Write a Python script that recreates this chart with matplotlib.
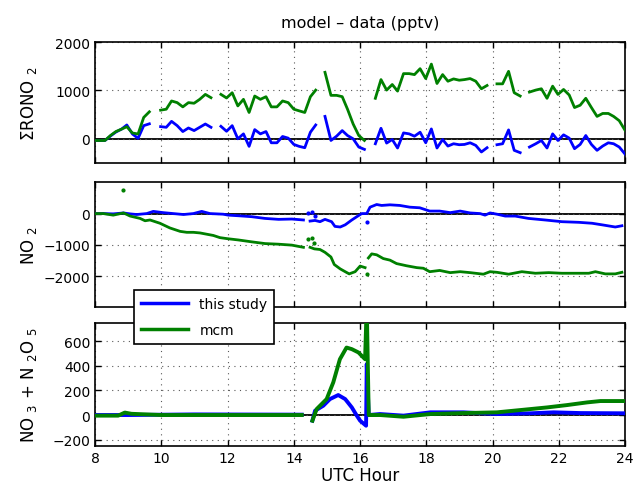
import numpy as np
import matplotlib
matplotlib.use('Agg')
import matplotlib.pyplot as plt

plt.rcParams.update({
    'font.family': 'DejaVu Sans',
    'font.size': 10,
    'axes.linewidth': 1.2,
    'xtick.direction': 'in',
    'ytick.direction': 'in',
    'xtick.top': True,
    'ytick.right': True,
    'xtick.major.size': 4,
    'ytick.major.size': 4,
    'mathtext.default': 'regular',
})

BLUE = (0, 0, 1)
GREEN = (0, 0.5, 0)

# --- top panel: sum RONO2 model - data, segments separated by gaps
rono_t = [
    [8.0, 8.3, 8.47, 8.63, 8.8, 8.96, 9.13, 9.3, 9.47, 9.64],
    [9.98, 10.15, 10.31, 10.48, 10.65, 10.82, 10.99, 11.16, 11.33, 11.5],
    [11.8, 11.97, 12.14, 12.31, 12.48, 12.65, 12.82, 12.99, 13.16, 13.32, 13.49, 13.66,
     13.83, 14.0, 14.16, 14.33, 14.5, 14.66],
    [14.94, 15.12, 15.29, 15.46, 15.62, 15.79, 15.96, 16.13],
    [16.46, 16.63, 16.8, 16.97, 17.13, 17.31, 17.48, 17.64, 17.81, 17.98, 18.15, 18.32,
     18.49, 18.65, 18.82, 18.99, 19.15, 19.32, 19.49, 19.66, 19.83],
    [20.13, 20.3, 20.48, 20.65, 20.83],
    [21.11, 21.3, 21.47, 21.64, 21.81, 21.97, 22.14, 22.31, 22.47, 22.64, 22.81, 22.98,
     23.15, 23.32, 23.49, 23.65, 23.82, 24.0],
]
rono_study = [
    [-35, -35, 60, 140, 200, 286, 100, 10, 272, 310],
    [252, 238, 361, 272, 150, 224, 170, 238, 306, 238],
    [258, 156, 272, 0, 102, -156, 190, 102, 150, -82, -82, 48, 14, -116, -156, -184, 136, 286],
    [463, -34, 54, 170, 68, 0, -170, -218],
    [-102, 218, -88, -14, -190, 122, 102, 54, 136, -82, 204, -190, -14, -150, -102, -122,
     -116, -82, -136, -272, -184],
    [-122, -102, 184, -238, -286],
    [-170, -102, -34, -190, 102, -34, 82, 14, -204, -116, 68, -116, -238, -150, -82, -102,
     -170, -320],
]
rono_mcm = [
    [-35, -35, 70, 150, 200, 250, 120, 100, 442, 558],
    [592, 612, 782, 748, 660, 748, 735, 816, 918, 850],
    [918, 844, 952, 680, 816, 544, 884, 816, 870, 660, 660, 782, 748, 612, 578, 544, 870, 1006],
    [1374, 898, 898, 871, 612, 306, 68, -34],
    [837, 1224, 1007, 1122, 986, 1347, 1347, 1327, 1449, 1245, 1544, 1143, 1327, 1190, 1238,
     1211, 1224, 1245, 1190, 1034, 1102],
    [1136, 1136, 1395, 952, 884],
    [966, 1007, 1034, 837, 1088, 918, 1020, 905, 646, 694, 837, 646, 463, 524, 524, 463, 374, 170],
]

# --- middle panel: NO2 model - data
no2_study_t = [
    [8.0, 8.25, 8.55, 8.86, 9.06, 9.26, 9.56, 9.76, 10.06, 10.36, 10.67, 10.97, 11.22, 11.47,
     11.87, 12.02, 12.33, 12.73, 13.13, 13.54, 13.94, 14.29],
    [14.49, 14.64, 14.79, 14.94, 15.14, 15.24, 15.4, 15.55, 15.75, 15.9, 16.05, 16.2, 16.3,
     16.5, 16.65, 16.9, 17.2, 17.5, 17.8, 18.1, 18.4, 18.72, 19.02, 19.32, 19.62, 19.77,
     19.92, 20.13, 20.38, 20.68, 21.08, 21.58, 22.09, 22.6, 23.0, 23.3, 23.7, 23.9],
]
no2_study = [
    [0, 0, -10, 20, -10, -30, 0, 70, 30, 0, -30, 0, 70, 0, -20, -50, -70, -100, -155, -185,
     -175, -205],
    [-240, -220, -260, -185, -260, -410, -430, -360, -205, -100, 0, 0, 205, 290, 260, 280,
     260, 205, 185, 80, 80, 30, 80, 20, 0, -50, 20, -20, -80, -80, -155, -205, -260, -280,
     -310, -360, -430, -390],
]
no2_mcm_t = [
    [8.0, 8.25, 8.55, 8.86, 9.06, 9.36, 9.51, 9.66, 9.96, 10.26, 10.57, 10.77, 10.97, 11.17,
     11.57, 11.77, 11.97, 12.33, 12.73, 13.13, 13.54, 13.94, 14.29],
    [14.49, 14.62, 14.79, 14.94, 15.12, 15.22, 15.4, 15.55, 15.67, 15.85, 16.0, 16.15],
    [16.25, 16.35, 16.5, 16.7, 16.9, 17.1, 17.4, 17.71, 17.91, 18.1, 18.4, 18.72, 19.02,
     19.32, 19.72, 19.92, 20.13, 20.48, 20.88, 21.29, 21.69, 22.09, 22.5, 22.9, 23.1, 23.4,
     23.7, 23.9],
]
no2_mcm = [
    [0, 0, -50, 20, -80, -155, -230, -205, -310, -460, -570, -600, -600, -620, -700, -770,
     -800, -845, -905, -960, -980, -1010, -1080],
    [-1080, -1130, -1150, -1240, -1390, -1630, -1770, -1860, -1930, -1860, -1680, -1730],
    [-1420, -1290, -1320, -1440, -1490, -1600, -1670, -1730, -1750, -1860, -1820, -1890,
     -1860, -1890, -1940, -1860, -1880, -1940, -1860, -1910, -1890, -1910, -1910, -1910,
     -1860, -1930, -1930, -1880],
]
# isolated points
no2_study_pts_t = [14.44, 14.56, 14.64, 16.2]
no2_study_pts = [30, 50, -80, -280]
no2_mcm_pts_t = [8.83, 14.44, 14.56, 14.62, 16.2]
no2_mcm_pts = [750, -800, -790, -950, -1930]

# --- bottom panel: NO3 + N2O5 model - data
nox_study_t = [
    [8.0, 9.0, 11.0, 14.24],
    [14.56, 14.64, 14.89, 15.09, 15.34, 15.55, 15.75, 15.9, 16.0, 16.18, 16.2, 16.26, 16.6,
     17.31, 18.12, 19.12, 20.13, 21.14, 21.84, 22.65, 24.0],
]
nox_study = [
    [0, 0, 5, 3],
    [-46, 35, 76, 130, 163, 130, 62, -5, -46, -87, 415, 0, 8, -5, 22, 22, 8, 14, 22, 16, 14],
]
nox_mcm_t = [
    [8.0, 8.7, 8.9, 9.1, 10.0, 12.0, 14.24],
    [14.56, 14.69, 14.99, 15.19, 15.39, 15.59, 15.75, 15.95, 16.15, 16.2, 16.26, 16.6, 17.31,
     18.12, 19.12, 20.13, 20.93, 21.64, 22.24, 22.85, 23.25, 24.0],
]
nox_mcm = [
    [-5, -5, 20, 10, 0, 0, 0],
    [-46, 49, 130, 266, 455, 550, 537, 510, 455, 900, 0, 0, -14, 8, 16, 22, 43, 62, 81, 103,
     114, 114],
]

hour_ticks = [8, 10, 12, 14, 16, 18, 20, 22, 24]


def join(segs):
    out = []
    for s in segs:
        out.extend(s)
        out.append(np.nan)
    return np.array(out[:-1], dtype=float)


def style(ax, ylim, yticks):
    ax.set_xlim(8, 24)
    ax.set_ylim(*ylim)
    ax.set_xticks(hour_ticks)
    ax.set_yticks(yticks)
    ax.grid(True, linestyle=(0, (1, 4)), color='0.35', linewidth=0.8)
    ax.axhline(0, color='k', linewidth=1.3, zorder=1.5)
    ax.tick_params(labelsize=10, width=1)
    ax.yaxis.set_label_coords(-0.105, 0.5)


fig = plt.figure(figsize=(6.35, 4.89), dpi=100)
ax1 = fig.add_axes([0.1496, 0.6646, 0.835, 0.2474])
ax2 = fig.add_axes([0.1496, 0.3695, 0.835, 0.2556])
ax3 = fig.add_axes([0.1496, 0.0865, 0.835, 0.2509])

ax1.plot(join(rono_t), join(rono_study), color=BLUE, lw=2, zorder=3)
ax1.plot(join(rono_t), join(rono_mcm), color=GREEN, lw=2, zorder=3)
style(ax1, (-500, 2000), [0, 1000, 2000])
ax1.set_xticklabels([])
ax1.set_ylabel('ΣRONO $_2$', fontsize=12)
ax1.set_title('model – data (pptv)', fontsize=11.5, pad=11)

ax2.plot(join(no2_study_t), join(no2_study), color=BLUE, lw=2, zorder=3)
ax2.plot(join(no2_mcm_t), join(no2_mcm), color=GREEN, lw=2, zorder=3)
ax2.plot(no2_study_pts_t, no2_study_pts, '.', color=BLUE, ms=4, zorder=3)
ax2.plot(no2_mcm_pts_t, no2_mcm_pts, '.', color=GREEN, ms=4, zorder=3)
style(ax2, (-3000, 1000), [-2000, -1000, 0])
ax2.set_xticklabels([])
ax2.set_ylabel('NO $_2$', fontsize=12)

ax3.plot(join(nox_study_t), join(nox_study), color=BLUE, lw=2.8, zorder=3)
ax3.plot(join(nox_mcm_t), join(nox_mcm), color=GREEN, lw=2.8, zorder=3)
style(ax3, (-250, 750), [-200, 0, 200, 400, 600])
ax3.set_ylabel('NO $_3$ + N $_2$O $_5$', fontsize=12)
ax3.set_xlabel('UTC Hour', fontsize=12, labelpad=1)

h1, = ax3.plot([], [], color=BLUE, lw=2.5)
h2, = ax3.plot([], [], color=GREEN, lw=2.5)
leg = fig.legend([h1, h2], ['this study', 'mcm'], loc='upper left',
                 bbox_to_anchor=(0.211, 0.405), fontsize=10, fancybox=False,
                 edgecolor='k', framealpha=1, handlelength=3.4, labelspacing=0.85,
                 borderpad=0.5, borderaxespad=0)
leg.get_frame().set_linewidth(1.2)

fig.savefig('out.png', dpi=100)
